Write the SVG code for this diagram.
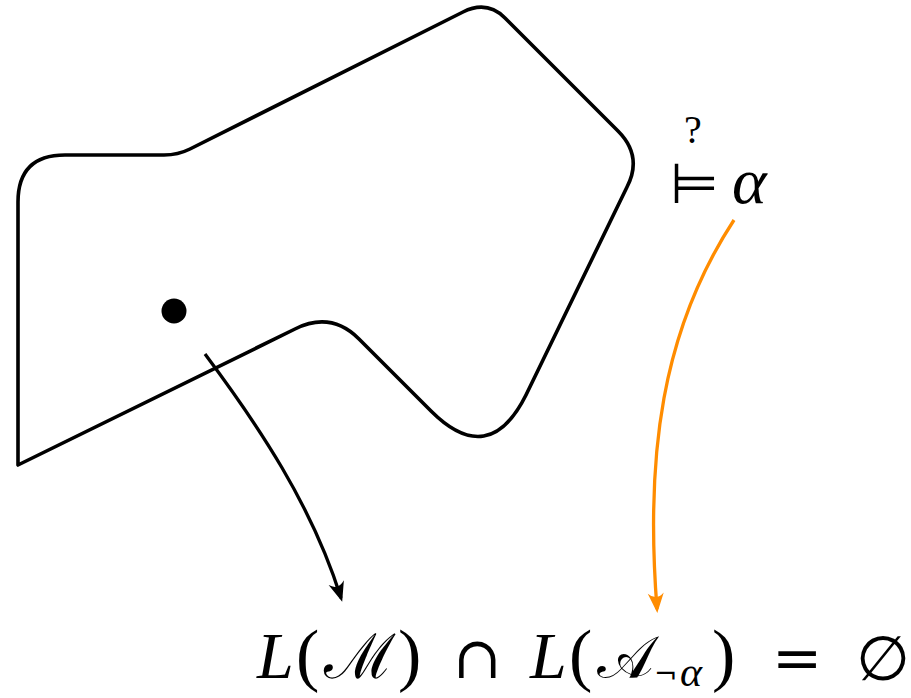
<svg xmlns="http://www.w3.org/2000/svg" width="911" height="698" viewBox="0 0 911 698">
<style>
.outline{fill:none;stroke:#000;stroke-width:3.6;stroke-linejoin:round}
.arr{fill:none;stroke-width:3.3}
.m{font-family:"Liberation Serif","DejaVu Serif",serif;font-style:italic;font-size:66px;fill:#000}
.p{font-family:"Liberation Serif",serif;font-size:70px;fill:#000}
.s{font-family:"DejaVu Serif","Liberation Serif",serif;fill:#000}
</style>
<defs>
<marker id="ahK" markerWidth="24" markerHeight="20" refX="20" refY="10" orient="auto" markerUnits="userSpaceOnUse" overflow="visible">
<path d="M24,10 L4,2 Q12,10 4,18 Z" fill="#000"/>
</marker>
<marker id="ahO" markerWidth="24" markerHeight="20" refX="20" refY="10" orient="auto" markerUnits="userSpaceOnUse" overflow="visible">
<path d="M24,10 L4,2 Q12,10 4,18 Z" fill="#ff8c00"/>
</marker>
</defs>
<g id="region">
<path class="outline" d="M18,465 L18,202 Q18,155 65,155 L164,155 Q178,155 190,149 L463,12 Q487,0 505,18 L618,131 Q643,156 627,187 L526,395 Q489,469 431,411 L359,339 Q331,311 295,329 Z"/>
</g>
<g id="state">
<circle cx="174" cy="311" r="12.5" fill="#000"/>
</g>
<g id="entails">
<text x="684" y="143" font-family="Liberation Serif, serif" font-size="40">?</text>
<text x="670" y="203" font-family="DejaVu Sans, sans-serif" font-size="56">⊨</text>
<text class="m" x="732" y="203">α</text>
</g>
<g id="formula">
<text class="m" x="257" y="678">L</text>
<text class="p" x="296" y="678">(</text>
<text class="s" x="324" y="678" font-size="62">ℳ</text>
<text class="p" x="398" y="678">)</text>
<text class="s" x="453" y="678" font-size="58">∩</text>
<text class="m" x="530" y="678">L</text>
<text class="p" x="569" y="678">(</text>
<text class="s" x="597" y="678" font-size="60">𝒜</text>
<text class="s" x="654" y="684" font-size="28">¬</text>
<text class="m" x="680" y="686" style="font-size:42px">α</text>
<text class="p" x="712" y="678">)</text>
<text class="s" x="772" y="678" font-size="60">=</text>
<text class="s" x="856" y="680" font-size="62">∅</text>
</g>
<g id="connectors">
<path class="arr" stroke="#000" d="M205,354 C258,425 312,505 341,598" marker-end="url(#ahK)"/>
<path class="arr" stroke="#ff8c00" d="M734,220 C662,330 645,455 657,609" marker-end="url(#ahO)"/>
</g>
</svg>
